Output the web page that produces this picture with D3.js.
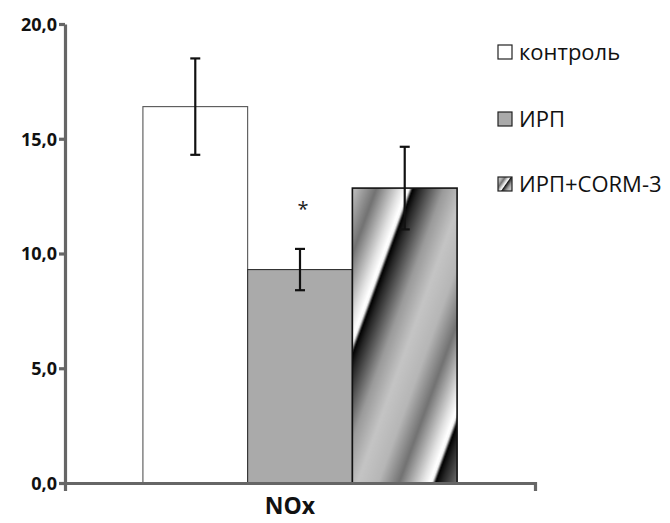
<!DOCTYPE html>
<html>
<head>
<meta charset="utf-8">
<script src="https://cdn.jsdelivr.net/npm/d3@7"></script>
<style>
  body { margin: 0; background: #fff; }
  text { font-family: "Open Sans", "DejaVu Sans", sans-serif; }
</style>
</head>
<body>
<script>
// data
var categories = ["NOx"];
var series = ["контроль", "ИРП", "ИРП+CORM-3"];
var means = [16.4, 9.3, 12.85];
var errors = [2.1, 0.9, 1.8];
var yTicks = [0, 5, 10, 15, 20];
var marks = ["", "*", ""];

var svgWidth = 670;
var svgHeight = 523;

var svg = d3.select("body")
  .append("svg")
  .attr("width", svgWidth)
  .attr("height", svgHeight);

var defs = svg.append("defs");

// gradient used by the striped fill
var grad = defs.append("linearGradient")
  .attr("id", "stripeGrad")
  .attr("x1", "0%").attr("x2", "100%")
  .attr("y1", "0%").attr("y2", "0%");
var stops = [
  [0, "#000"], [0.05, "#262626"], [0.24, "#9a9a9a"], [0.4, "#c4c4c4"],
  [0.56, "#b6b6b6"], [0.72, "#727272"], [0.9, "#e2e2e2"], [0.955, "#fff"],
  [0.975, "#f4f4f4"], [1, "#000"]
];
stops.forEach(function (s) {
  grad.append("stop").attr("offset", s[0]).attr("stop-color", s[1]);
});

var stripe = defs.append("pattern")
  .attr("id", "stripes")
  .attr("patternUnits", "userSpaceOnUse")
  .attr("width", 122).attr("height", 20)
  .attr("patternTransform", "rotate(20) translate(74,0)");
stripe.append("rect")
  .attr("width", 122).attr("height", 20)
  .attr("fill", "url(#stripeGrad)");

var stripeSmall = defs.append("pattern")
  .attr("id", "stripesSmall")
  .attr("patternUnits", "userSpaceOnUse")
  .attr("width", 122).attr("height", 20)
  .attr("patternTransform", "translate(505,184) rotate(35) scale(0.13) translate(-40,0)");
stripeSmall.append("rect")
  .attr("width", 122).attr("height", 20)
  .attr("fill", "url(#stripeGrad)");

var fills = ["#ffffff", "#aaaaaa", "url(#stripes)"];
var legendFills = ["#ffffff", "#aaaaaa", "url(#stripesSmall)"];
var strokes = ["#555", "#333", "#111"];

// scales
var x0 = d3.scaleBand()
  .domain(categories)
  .range([65, 535])
  .paddingOuter(0.248)
  .paddingInner(0);

var x1 = d3.scaleBand()
  .domain(series)
  .range([0, x0.bandwidth()])
  .padding(0);

var y = d3.scaleLinear()
  .domain([0, 20])
  .range([483, 24]);

var rows = series.map(function (s, i) {
  return { name: s, value: means[i], err: errors[i], mark: marks[i], i: i };
});

var chartGroup = svg.append("g");

var groups = chartGroup.selectAll(".cat")
  .data(categories)
  .enter()
  .append("g")
  .attr("transform", d => `translate(${x0(d)},0)`);

groups.selectAll("rect")
  .data(rows)
  .enter()
  .append("rect")
  .attr("x", d => x1(d.name))
  .attr("y", d => y(d.value))
  .attr("width", x1.bandwidth())
  .attr("height", d => y(0) - y(d.value))
  .attr("fill", d => fills[d.i])
  .attr("stroke", d => strokes[d.i])
  .attr("stroke-width", d => d.i == 2 ? 1.6 : 1.1);

// error bars
var eb = groups.selectAll(".err")
  .data(rows)
  .enter()
  .append("g")
  .attr("stroke", "#111")
  .attr("stroke-width", 2.2);
eb.append("line")
  .attr("x1", d => x1(d.name) + x1.bandwidth() / 2)
  .attr("x2", d => x1(d.name) + x1.bandwidth() / 2)
  .attr("y1", d => y(d.value + d.err))
  .attr("y2", d => y(d.value - d.err));
eb.append("line")
  .attr("x1", d => x1(d.name) + x1.bandwidth() / 2 - 5)
  .attr("x2", d => x1(d.name) + x1.bandwidth() / 2 + 5)
  .attr("y1", d => y(d.value + d.err))
  .attr("y2", d => y(d.value + d.err));
eb.append("line")
  .attr("x1", d => x1(d.name) + x1.bandwidth() / 2 - 5)
  .attr("x2", d => x1(d.name) + x1.bandwidth() / 2 + 5)
  .attr("y1", d => y(d.value - d.err))
  .attr("y2", d => y(d.value - d.err));

// significance mark
groups.selectAll(".mark")
  .data(rows.filter(d => d.mark))
  .enter()
  .append("text")
  .attr("x", d => x1(d.name) + x1.bandwidth() / 2 + 3)
  .attr("y", d => y(d.value + d.err) - 33)
  .attr("text-anchor", "middle")
  .attr("font-size", "20px")
  .attr("fill", "#222")
  .text(d => d.mark);

// axes
var leftAxis = d3.axisLeft(y)
  .tickValues(yTicks)
  .tickFormat(d => d3.format(".1f")(d).replace(".", ","))
  .tickSizeInner(6)
  .tickSizeOuter(0)
  .tickPadding(2);

var yAxis = chartGroup.append("g")
  .attr("transform", "translate(65,0)")
  .call(leftAxis);

var bottomAxis = d3.axisBottom(x0)
  .tickSizeInner(0)
  .tickSizeOuter(8)
  .tickPadding(15);

var xAxis = chartGroup.append("g")
  .attr("transform", "translate(0,483)")
  .call(bottomAxis);

[yAxis, xAxis].forEach(function (a) {
  a.select(".domain").attr("stroke", "#666").attr("stroke-width", 3.2);
  a.selectAll(".tick line").attr("stroke", "#666").attr("stroke-width", 3.2);
  a.selectAll("text")
    .attr("fill", "#111")
    .attr("font-weight", "bold")
    .style("font-family", '"Open Sans", sans-serif');
});
yAxis.selectAll("text").attr("font-size", "18px").attr("dy", "0.36em");
xAxis.selectAll("text").attr("font-size", "23px").attr("dx", "-10");

// legend
var legend = svg.append("g");
var legendY = [52, 119, 184];
var li = legend.selectAll("g")
  .data(rows)
  .enter()
  .append("g")
  .attr("transform", d => `translate(498,${legendY[d.i]})`);
li.append("rect")
  .attr("x", 0).attr("y", -7)
  .attr("width", 14).attr("height", 14)
  .attr("fill", d => legendFills[d.i])
  .attr("stroke", "#222")
  .attr("stroke-width", 1.2);
li.append("text")
  .attr("x", 21)
  .attr("y", 0)
  .attr("dy", "0.36em")
  .attr("font-size", "22px")
  .attr("fill", "#111")
  .text(d => d.name);
</script>
</body>
</html>
